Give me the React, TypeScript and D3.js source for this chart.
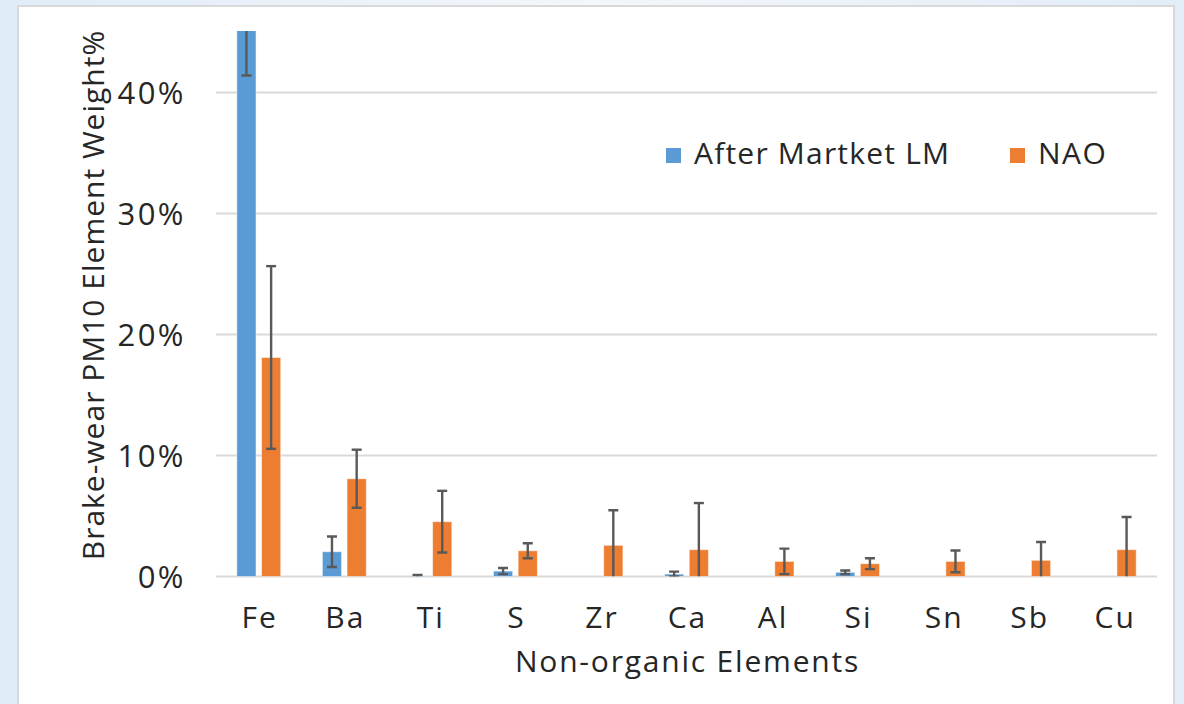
import React from 'react';
import * as d3 from 'd3';

const categories = ['Fe', 'Ba', 'Ti', 'S', 'Zr', 'Ca', 'Al', 'Si', 'Sn', 'Sb', 'Cu'];
const seriesNames = ['After Martket LM', 'NAO'];
const lmValues: (number | null)[] = [0.48, 0.0205, 0.0005, 0.0045, null, 0.002, null, 0.0035, null, null, null];
const lmErrors: (number | null)[] = [0.066, 0.0126, 0.0008, 0.0025, null, 0.002, null, 0.0015, null, null, null];
const naoValues: number[] = [0.181, 0.0808, 0.0453, 0.0213, 0.0258, 0.0222, 0.0125, 0.0106, 0.0125, 0.0134, 0.0222];
const naoErrors: number[] = [0.0755, 0.024, 0.0255, 0.0062, 0.029, 0.0385, 0.0105, 0.0045, 0.009, 0.0151, 0.027];
const yTicks = [0, 0.1, 0.2, 0.3, 0.4];
const yTitle = 'Brake-wear PM10 Element Weight%';
const xTitle = 'Non-organic Elements';

const W = 1184;
const H = 704;
const FONT = "'Open Sans', 'Noto Sans', sans-serif";
const TEXT = '#262626';
const COLORS = ['#5B9BD5', '#ED7D31'];

const plotLeft = 216;
const plotRight = 1157;
const plotTop = 31;

export default function App() {
  const y = d3.scaleLinear().domain([0, 0.4]).range([576.5, 92.5]);
  const x0 = d3
    .scaleBand<string>()
    .domain(categories)
    .range([plotLeft, plotRight])
    .paddingInner(0.486)
    .paddingOuter(0.243);
  const x1 = d3.scaleBand<string>().domain(seriesNames).range([0, x0.bandwidth()]).paddingInner(0.22);
  const fmt = d3.format('.0%');
  const y0 = y(0);

  const series = [
    { name: seriesNames[0], values: lmValues, errors: lmErrors, color: COLORS[0] },
    { name: seriesNames[1], values: naoValues, errors: naoErrors, color: COLORS[1] },
  ];

  const capHalf = 5;

  return (
    <svg width={W} height={H} style={{ position: 'absolute', left: 0, top: 0 }} fontFamily={FONT}>
      <defs>
        <linearGradient id="bg" x1="0" x2="1" y1="0" y2="0">
          <stop offset="0" stopColor="#e0ecf7" />
          <stop offset="0.5" stopColor="#f3f7fb" />
          <stop offset="1" stopColor="#e2edf7" />
        </linearGradient>
        <clipPath id="plotClip">
          <rect x={plotLeft - 10} y={plotTop} width={plotRight - plotLeft + 20} height={y0 - plotTop} />
        </clipPath>
      </defs>
      <rect x={0} y={0} width={W} height={H} fill="url(#bg)" />
      <rect x={18} y={6} width={1156} height={720} fill="#ffffff" stroke="#d9d9d9" strokeWidth={2} />

      {yTicks.map((t) => (
        <g key={t}>
          <line x1={plotLeft} x2={plotRight} y1={y(t)} y2={y(t)} stroke="#d9d9d9" strokeWidth={2} />
          <text
            x={186}
            y={y(t)}
            dy="0.36em"
            textAnchor="end"
            fontSize={31}
            letterSpacing={2.5}
            fill={TEXT}
          >
            {fmt(t)}
          </text>
        </g>
      ))}

      <g clipPath="url(#plotClip)">
        {series.map((s) =>
          categories.map((c, i) => {
            const v = s.values[i];
            if (v == null) return null;
            const bx = (x0(c) as number) + (x1(s.name) as number);
            const bw = x1.bandwidth();
            return (
              <rect
                key={s.name + c}
                x={bx}
                y={y(v)}
                width={bw}
                height={y0 - y(v)}
                fill={s.color}
                stroke="rgba(255,255,255,0.55)"
                strokeWidth={1}
              />
            );
          })
        )}
        {series.map((s) =>
          categories.map((c, i) => {
            const v = s.values[i];
            const e = s.errors[i];
            if (v == null || e == null) return null;
            const cx = (x0(c) as number) + (x1(s.name) as number) + x1.bandwidth() / 2;
            const hi = y(v + e);
            const loV = v - e;
            const lo = loV < 0 ? y0 : y(loV);
            return (
              <g key={'e' + s.name + c} stroke="#595959" strokeWidth={2.4}>
                <line x1={cx} x2={cx} y1={hi} y2={lo} />
                <line x1={cx - capHalf} x2={cx + capHalf} y1={hi} y2={hi} />
                {loV >= 0 && <line x1={cx - capHalf} x2={cx + capHalf} y1={lo} y2={lo} />}
              </g>
            );
          })
        )}
      </g>

      {categories.map((c) => (
        <text
          key={'l' + c}
          x={(x0(c) as number) + x0.bandwidth() / 2 + 1}
          y={628}
          textAnchor="middle"
          fontSize={30}
          letterSpacing={2}
          fill={TEXT}
        >
          {c}
        </text>
      ))}

      <text
        x={(plotLeft + plotRight) / 2 + 1}
        y={672}
        textAnchor="middle"
        fontSize={30}
        letterSpacing={1.8}
        fill={TEXT}
      >
        {xTitle}
      </text>

      <text
        transform={`translate(104, 295) rotate(-90)`}
        textAnchor="middle"
        fontSize={30}
        letterSpacing={1}
        fill={TEXT}
      >
        {yTitle}
      </text>

      <g>
        <rect x={666} y={148} width={15} height={15} fill={COLORS[0]} />
        <text x={694} y={164} fontSize={30} letterSpacing={1.2} fill={TEXT}>
          {seriesNames[0]}
        </text>
        <rect x={1010} y={148} width={15} height={15} fill={COLORS[1]} />
        <text x={1038} y={164} fontSize={30} letterSpacing={1.5} fill={TEXT}>
          {seriesNames[1]}
        </text>
      </g>
    </svg>
  );
}
